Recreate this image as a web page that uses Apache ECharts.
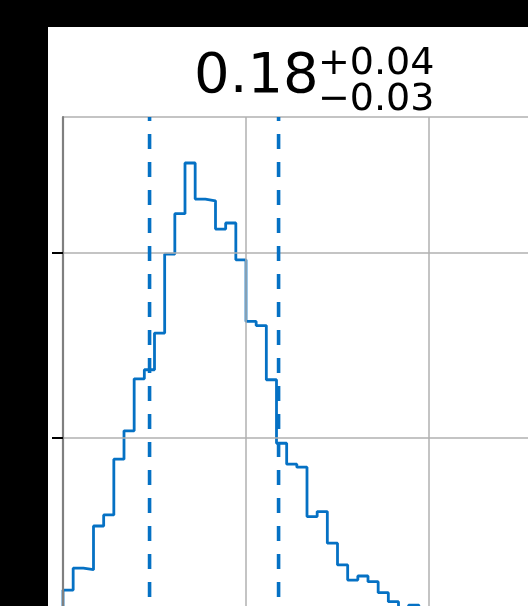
<!DOCTYPE html>
<html>
<head>
<meta charset="utf-8">
<script src="https://cdn.jsdelivr.net/npm/echarts@6/dist/echarts.min.js"></script>
<style>
html,body{margin:0;padding:0;background:#000;}
#c{width:528px;height:606px;}
</style>
</head>
<body>
<div id="c"></div>
<script>
// ---- data ----
const binStart = 0.1;
const binWidth = 1 / 180;
const counts = [17.8, 29.6, 28.8, 52.4, 58.4, 88.5, 103.8, 131.9, 136.8, 156.6,
  199.3, 221.1, 248.5, 229.0, 228.1, 212.8, 216.1, 196.2, 162.9, 160.7,
  131.4, 97.1, 85.8, 84.2, 57.5, 60.2, 43.1, 31.4, 23.2, 25.4,
  22.3, 16.4, 11.5, 5.9, 9.7];
const quantiles = [0.1473, 0.2178];
const xTicks = [0.1, 0.2, 0.3, 0.4];
const yTicks = [0, 100, 200];
const titleMain = '0.18';
const titleSup = '+0.04';
const titleSub = '\u22120.03';

// ---- build ----
const blue = '#0571c4';
const stepData = [[binStart, 0]];
counts.forEach((v, i) => stepData.push([binStart + i * binWidth, v]));
stepData.push([binStart + counts.length * binWidth, counts[counts.length - 1]]);
stepData.push([binStart + counts.length * binWidth, 0]);
const yMax = 1.1 * Math.max.apply(null, counts);
const xMin = xTicks[0], xMax = xTicks[xTicks.length - 1];
const xInt = xTicks[1] - xTicks[0];
const yInt = yTicks[1] - yTicks[0];

const chart = echarts.init(document.getElementById('c'), null, {renderer: 'canvas'});
const gridLine = {show: true, lineStyle: {color: '#b0b0b0', width: 1.5}};
const option = {
  backgroundColor: '#000000',
  animation: false,
  graphic: [
    {type: 'rect', z: -10, shape: {x: 48, y: 27, width: 480, height: 579}, style: {fill: '#ffffff'}},
    {type: 'text', z: 10, style: {x: 194, y: 77.5, text: titleMain, font: '56px "DejaVu Sans"', fill: '#000', verticalAlign: 'middle'}},
    {type: 'text', z: 10, style: {x: 318, y: 64, text: titleSup, font: '38px "DejaVu Sans"', fill: '#000', verticalAlign: 'middle'}},
    {type: 'text', z: 10, style: {x: 318, y: 100, text: titleSub, font: '38px "DejaVu Sans"', fill: '#000', verticalAlign: 'middle'}}
  ],
  grid: {left: 63, top: 117, width: 549, height: 506, outerBoundsMode: 'none', containLabel: false},
  xAxis: [
    {type: 'value', min: xMin, max: xMax, interval: xInt, position: 'bottom', z: 2,
     axisLine: {show: false}, axisTick: {show: false}, axisLabel: {show: false}, splitLine: gridLine},
    {type: 'value', min: xMin, max: xMax, interval: xInt, position: 'top', z: 4,
     axisLine: {show: true, lineStyle: {color: '#808080', width: 2.2}}, axisTick: {show: false}, axisLabel: {show: false}, splitLine: {show: false}}
  ],
  yAxis: [
    {type: 'value', min: 0, max: yMax, interval: yInt, position: 'left', z: 2,
     axisLine: {show: false}, axisTick: {show: false}, axisLabel: {show: false}, splitLine: gridLine},
    {type: 'value', min: 0, max: yMax, interval: yInt, position: 'left', z: 4,
     axisLine: {show: true, onZero: false, lineStyle: {color: '#808080', width: 2.2}},
     axisTick: {show: true, length: 11, customValues: yTicks, lineStyle: {color: '#000', width: 2}},
     axisLabel: {show: false}, splitLine: {show: false}}
  ],
  series: [
    {type: 'line', z: 1, xAxisIndex: 0, yAxisIndex: 0, step: 'end', data: stepData, symbol: 'none',
     lineStyle: {color: blue, width: 2.8}, silent: true},
    ...quantiles.map(q => ({
      type: 'line', z: 3, xAxisIndex: 0, yAxisIndex: 0, symbol: 'none', silent: true,
      data: [[q, yMax], [q, 0]],
      lineStyle: {color: blue, width: 3.6, type: [15, 13], dashOffset: 11}
    }))
  ]
};
chart.setOption(option);
</script>
</body>
</html>
